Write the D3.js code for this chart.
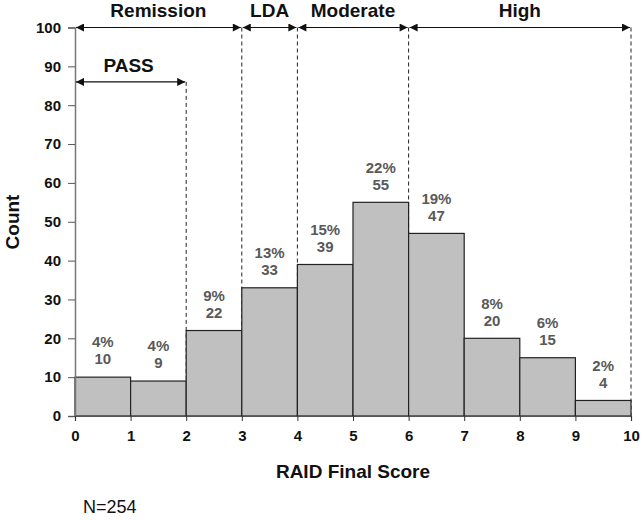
<!DOCTYPE html>
<html><head><meta charset="utf-8">
<script src="https://cdn.jsdelivr.net/npm/d3@7"></script>
<style>body{margin:0;background:#fff}svg{display:block}text{font-family:Arial,"Liberation Sans",sans-serif}</style>
</head><body><svg id="c" width="641" height="521"></svg>
<script>
const binStarts = [0,1,2,3,4,5,6,7,8,9];
const counts = [10,9,22,33,39,55,47,20,15,4];
const percents = ["4%","4%","9%","13%","15%","22%","19%","8%","6%","2%"];
const xTicks = [0,1,2,3,4,5,6,7,8,9,10];
const yTicks = [0,10,20,30,40,50,60,70,80,90,100];
const categoryNames = ["Remission","LDA","Moderate","High"];
const categoryFrom = [0,3,4,6];
const categoryTo = [3,4,6,10];
const passRange = [0,2];
const passLevel = 86;
const totalN = 254;

const svg = d3.select("#c");
const x = d3.scaleLinear().domain([0,10]).range([75,631]);
const y = d3.scaleLinear().domain([0,100]).range([416,27.5]);

const defs = svg.append("defs");
["s","e"].forEach(k=>{
  defs.append("marker").attr("id","arr"+k).attr("viewBox","0 0 10 10").attr("refX",10).attr("refY",5)
   .attr("markerWidth",9).attr("markerHeight",8).attr("markerUnits","userSpaceOnUse")
   .attr("orient", k==="e"?"auto":"auto-start-reverse")
   .append("path").attr("d","M0,0L10,5L0,10Z").attr("fill","#111");
});
// dashed separators
const dashX = [passRange[1], ...categoryTo];
dashX.forEach(v=>{
  const top = v===passRange[1] ? y(passLevel) : y(100);
  svg.append("line").attr("x1",x(v)).attr("x2",x(v)).attr("y1",top).attr("y2",y(0))
    .attr("stroke","#222").attr("stroke-width",1).attr("stroke-dasharray","4,3");
});
// bars
svg.selectAll("rect.bar").data(binStarts).enter().append("rect")
  .attr("x",d=>x(d)).attr("width",d=>x(d+1)-x(d))
  .attr("y",(d,i)=>y(counts[i])).attr("height",(d,i)=>y(0)-y(counts[i]))
  .attr("fill","#c0c0c0").attr("stroke","#222").attr("stroke-width",1.2);
// labels
const lab = svg.append("g").attr("font-weight","bold").attr("font-size",15).attr("fill","#595959").attr("text-anchor","middle");
binStarts.forEach((d,i)=>{
  const cx = x(d+0.5), top = y(counts[i]);
  lab.append("text").attr("x",cx).attr("y",top-35).attr("dy","0.35em").text(percents[i]);
  lab.append("text").attr("x",cx).attr("y",top-18).attr("dy","0.35em").text(counts[i]);
});
// axes
const ya = svg.append("g").attr("transform",`translate(${x(0)},0)`)
  .call(d3.axisLeft(y).tickValues(yTicks).tickSize(7).tickPadding(7));
ya.select(".domain").attr("stroke","#777").attr("stroke-width",1.5);
ya.selectAll(".tick line").attr("stroke","#555");
ya.selectAll("text").attr("font-size",15).attr("font-weight","bold").attr("fill","#111").attr("font-family","Arial");
const xa = svg.append("g").attr("transform",`translate(0,${y(0)})`)
  .call(d3.axisBottom(x).tickValues(xTicks).tickSize(5).tickPadding(9));
xa.select(".domain").attr("stroke","#555").attr("stroke-width",1.2);
xa.selectAll(".tick line").attr("stroke","#333");
xa.selectAll("text").attr("font-size",15).attr("font-weight","bold").attr("fill","#111").attr("font-family","Arial");
// category arrows
categoryNames.forEach((n,i)=>{
  svg.append("line").attr("x1",x(categoryFrom[i])+1).attr("x2",x(categoryTo[i])-1)
    .attr("y1",y(100)).attr("y2",y(100)).attr("stroke","#111").attr("stroke-width",1.2)
    .attr("marker-start","url(#arrs)").attr("marker-end","url(#arre)");
  svg.append("text").attr("x",x((categoryFrom[i]+categoryTo[i])/2)).attr("y",10).attr("dy","0.35em")
    .attr("text-anchor","middle").attr("font-weight","bold").attr("font-size",19).attr("fill","#111").text(n);
});
svg.append("line").attr("x1",x(passRange[0])+1).attr("x2",x(passRange[1])-1)
  .attr("y1",y(passLevel)).attr("y2",y(passLevel)).attr("stroke","#111").attr("stroke-width",1.2)
  .attr("marker-start","url(#arrs)").attr("marker-end","url(#arre)");
svg.append("text").attr("x",x(1)-2).attr("y",65).attr("dy","0.35em").attr("text-anchor","middle")
  .attr("font-weight","bold").attr("font-size",19).attr("fill","#111").text("PASS");
// titles
svg.append("text").attr("x",(x(0)+x(10))/2).attr("y",471).attr("dy","0.35em").attr("text-anchor","middle")
  .attr("font-weight","bold").attr("font-size",19).attr("fill","#111").text("RAID Final Score");
svg.append("text").attr("transform","translate(12,222) rotate(-90)").attr("dy","0.35em").attr("text-anchor","middle")
  .attr("font-weight","bold").attr("font-size",19).attr("fill","#111").text("Count");
svg.append("text").attr("x",83).attr("y",507).attr("dy","0.35em").attr("font-size",18).attr("fill","#111").text("N=" + totalN);
</script></body></html>
